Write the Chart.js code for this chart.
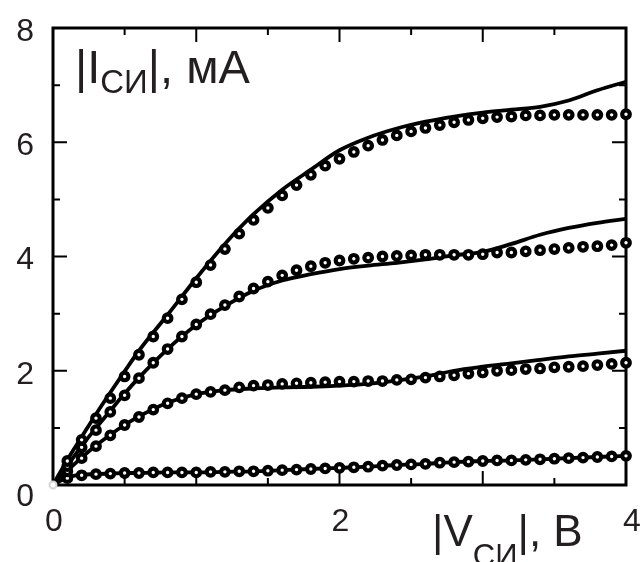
<!DOCTYPE html>
<html>
<head>
<meta charset="utf-8">
<script src="https://cdn.jsdelivr.net/npm/chart.js@4.4.1/dist/chart.umd.min.js"></script>
<style>
  html, body { margin: 0; padding: 0; background: #fff; }
</style>
</head>
<body>
<canvas id="chartCanvas" width="640" height="562"></canvas>
<script>
// measured points, |V_СИ| in volts
const measV = [0.1, 0.2, 0.3, 0.4, 0.5, 0.6, 0.7, 0.8, 0.9, 1.0,
               1.1, 1.2, 1.3, 1.4, 1.5, 1.6, 1.7, 1.8, 1.9, 2.0,
               2.1, 2.2, 2.3, 2.4, 2.5, 2.6, 2.7, 2.8, 2.9, 3.0,
               3.1, 3.2, 3.3, 3.4, 3.5, 3.6, 3.7, 3.8, 3.9, 4.0];

// measured |I_СИ| in mA, one array per gate bias (top to bottom)
const meas1 = [0.42, 0.79, 1.17, 1.52, 1.90, 2.28, 2.60, 2.92, 3.25, 3.55,
               3.85, 4.13, 4.40, 4.64, 4.85, 5.07, 5.25, 5.43, 5.59, 5.71,
               5.83, 5.94, 6.04, 6.12, 6.19, 6.25, 6.30, 6.35, 6.39, 6.42,
               6.44, 6.45, 6.47, 6.47, 6.48, 6.48, 6.48, 6.48, 6.48, 6.49];
const meas2 = [0.33, 0.66, 0.96, 1.28, 1.57, 1.87, 2.14, 2.38, 2.60, 2.81,
               2.99, 3.15, 3.30, 3.44, 3.56, 3.67, 3.76, 3.83, 3.89, 3.93,
               3.96, 3.98, 4.00, 4.01, 4.02, 4.03, 4.03, 4.03, 4.03, 4.04,
               4.07, 4.07, 4.09, 4.11, 4.13, 4.15, 4.17, 4.18, 4.20, 4.24];
const meas3 = [0.24, 0.47, 0.68, 0.87, 1.05, 1.19, 1.32, 1.43, 1.52, 1.59,
               1.63, 1.66, 1.71, 1.74, 1.75, 1.77, 1.78, 1.79, 1.80, 1.81,
               1.81, 1.82, 1.82, 1.84, 1.85, 1.88, 1.90, 1.92, 1.95, 1.97,
               2.00, 2.01, 2.03, 2.04, 2.06, 2.07, 2.08, 2.10, 2.12, 2.14];
const meas4 = [0.12, 0.17, 0.19, 0.20, 0.21, 0.21, 0.22, 0.22, 0.22, 0.22,
               0.23, 0.23, 0.24, 0.24, 0.25, 0.26, 0.27, 0.28, 0.29, 0.30,
               0.31, 0.32, 0.34, 0.35, 0.36, 0.37, 0.39, 0.40, 0.41, 0.42,
               0.43, 0.43, 0.44, 0.45, 0.46, 0.47, 0.48, 0.49, 0.50, 0.51];

// model curves
const modelV = [0, 0.1, 0.2, 0.3, 0.4, 0.5, 0.6, 0.8, 1.0, 1.2, 1.4, 1.6,
                1.8, 2.0, 2.2, 2.4, 2.6, 2.8, 3.0, 3.2, 3.4, 3.6, 3.8, 4.0];
const model1 = [0, 0.44, 0.84, 1.24, 1.62, 1.99, 2.35, 2.98, 3.62, 4.22, 4.74, 5.17,
                5.52, 5.86, 6.08, 6.24, 6.36, 6.45, 6.52, 6.57, 6.62, 6.73, 6.91, 7.06];
const model2 = [0, 0.34, 0.68, 1.00, 1.30, 1.60, 1.88, 2.38, 2.80, 3.13, 3.40, 3.58,
                3.69, 3.78, 3.84, 3.89, 3.95, 4.02, 4.08, 4.22, 4.38, 4.50, 4.59, 4.66];
const model3 = [0, 0.25, 0.48, 0.69, 0.88, 1.05, 1.20, 1.44, 1.59, 1.66, 1.69, 1.71,
                1.72, 1.74, 1.77, 1.83, 1.90, 2.00, 2.07, 2.13, 2.19, 2.25, 2.30, 2.35];
const model4 = [0, 0.13, 0.18, 0.19, 0.20, 0.21, 0.21, 0.22, 0.22, 0.23, 0.24, 0.26,
                0.28, 0.30, 0.32, 0.35, 0.37, 0.40, 0.42, 0.43, 0.45, 0.47, 0.49, 0.51];

// axis labels and tick marks
const xTickLabels = [0, 2, 4];
const yTickLabels = [0, 2, 4, 6, 8];
const xTickMarks = [0.5, 1, 1.5, 2, 2.5, 3, 3.5];
const yTickMarks = [1, 2, 3, 4, 5, 6, 7];

const FONT = "'Liberation Sans', Arial, sans-serif";
const TEXT = '#231f20';

const toPoints = (xs, ys) => xs.map((v, i) => ({ x: v, y: ys[i] }));

function measured(ys) {
    return {
        data: toPoints(measV, ys),
        showLine: false,
        pointRadius: 3.8,
        pointBorderWidth: 4.2,
        pointBorderColor: '#000',
        pointBackgroundColor: '#fff',
        clip: false,
        order: 0
    };
}

function model(ys) {
    return {
        data: toPoints(modelV, ys),
        showLine: true,
        borderColor: '#000',
        borderWidth: 3.8,
        pointRadius: 0,
        cubicInterpolationMode: 'monotone',
        order: 1
    };
}

// frame and inward ticks on all four sides
const frameTicks = {
    id: 'frameTicks',
    beforeDatasetsDraw(chart) {
        const { ctx, chartArea: a, scales: { x, y } } = chart;
        ctx.save();
        ctx.strokeStyle = '#000';
        ctx.lineWidth = 2;
        ctx.beginPath();
        xTickMarks.forEach(v => {
            const px = x.getPixelForValue(v);
            const len = Number.isInteger(v) ? 14 : 7;
            ctx.moveTo(px, a.bottom); ctx.lineTo(px, a.bottom - len);
            ctx.moveTo(px, a.top); ctx.lineTo(px, a.top + len);
        });
        yTickMarks.forEach(v => {
            const py = y.getPixelForValue(v);
            const len = v % 2 === 0 ? 14 : 7;
            ctx.moveTo(a.left, py); ctx.lineTo(a.left + len, py);
            ctx.moveTo(a.right, py); ctx.lineTo(a.right - len, py);
        });
        ctx.stroke();
        ctx.lineWidth = 3;
        ctx.strokeRect(a.left, a.top, a.right - a.left, a.bottom - a.top);

        // tick numbers, the zero on the y axis sits a bit lower
        ctx.fillStyle = TEXT;
        ctx.font = '32px ' + FONT;
        ctx.textBaseline = 'middle';
        ctx.textAlign = 'right';
        yTickLabels.forEach(v => {
            ctx.fillText(String(v), a.left - 19, y.getPixelForValue(v) + (v === 0 ? 12 : 4));
        });
        ctx.textAlign = 'center';
        xTickLabels.forEach(v => {
            ctx.fillText(String(v), x.getPixelForValue(v) + (v === 4 ? 6 : 1), a.bottom + 37);
        });
        ctx.restore();
    }
};

// axis titles with subscripts
function drawTitle(ctx, x, baseline, parts, size, subSize, subDrop) {
    let cx = x;
    parts.forEach(p => {
        ctx.font = (p.sub ? subSize : size) + 'px ' + FONT;
        ctx.fillText(p.t, cx, p.sub ? baseline + subDrop : baseline);
        cx += ctx.measureText(p.t).width;
    });
}

const axisTitles = {
    id: 'axisTitles',
    afterDraw(chart) {
        const ctx = chart.ctx;
        ctx.save();
        ctx.fillStyle = TEXT;
        ctx.textBaseline = 'alphabetic';
        ctx.textAlign = 'left';
        drawTitle(ctx, 75, 83, [{ t: '|I' }, { t: 'СИ', sub: true }, { t: '|, мА' }], 47, 33, 10);
        drawTitle(ctx, 432, 546, [{ t: '|V' }, { t: 'СИ', sub: true }, { t: '|, В' }], 44, 31, 20);
        ctx.restore();
    }
};

const canvas = document.getElementById('chartCanvas');
const chart = new Chart(canvas.getContext('2d'), {
    type: 'scatter',
    data: {
        datasets: [
            measured(meas1), measured(meas2), measured(meas3), measured(meas4),
            model(model1), model(model2), model(model3), model(model4),
            {
                data: [{ x: 0, y: 0 }],
                showLine: false,
                pointRadius: 3.5,
                pointBorderWidth: 2,
                pointBorderColor: '#d4d4d4',
                pointBackgroundColor: '#fff',
                clip: false,
                order: -1
            }
        ]
    },
    options: {
        responsive: false,
        animation: false,
        layout: { padding: { top: 28, right: 14, bottom: 0, left: 0 } },
        plugins: { legend: { display: false }, tooltip: { enabled: false } },
        scales: {
            x: {
                type: 'linear',
                min: 0,
                max: 4,
                grid: { display: false, drawTicks: false },
                border: { display: false },
                ticks: { display: false, stepSize: 0.5 },
                afterFit(s) { s.height = 77; s.paddingLeft = 0; s.paddingRight = 0; }
            },
            y: {
                type: 'linear',
                min: 0,
                max: 8,
                grid: { display: false, drawTicks: false },
                border: { display: false },
                ticks: { display: false, stepSize: 1 },
                afterFit(s) { s.width = 53; s.paddingTop = 0; s.paddingBottom = 0; }
            }
        }
    },
    plugins: [frameTicks, axisTitles]
});
</script>
</body>
</html>
